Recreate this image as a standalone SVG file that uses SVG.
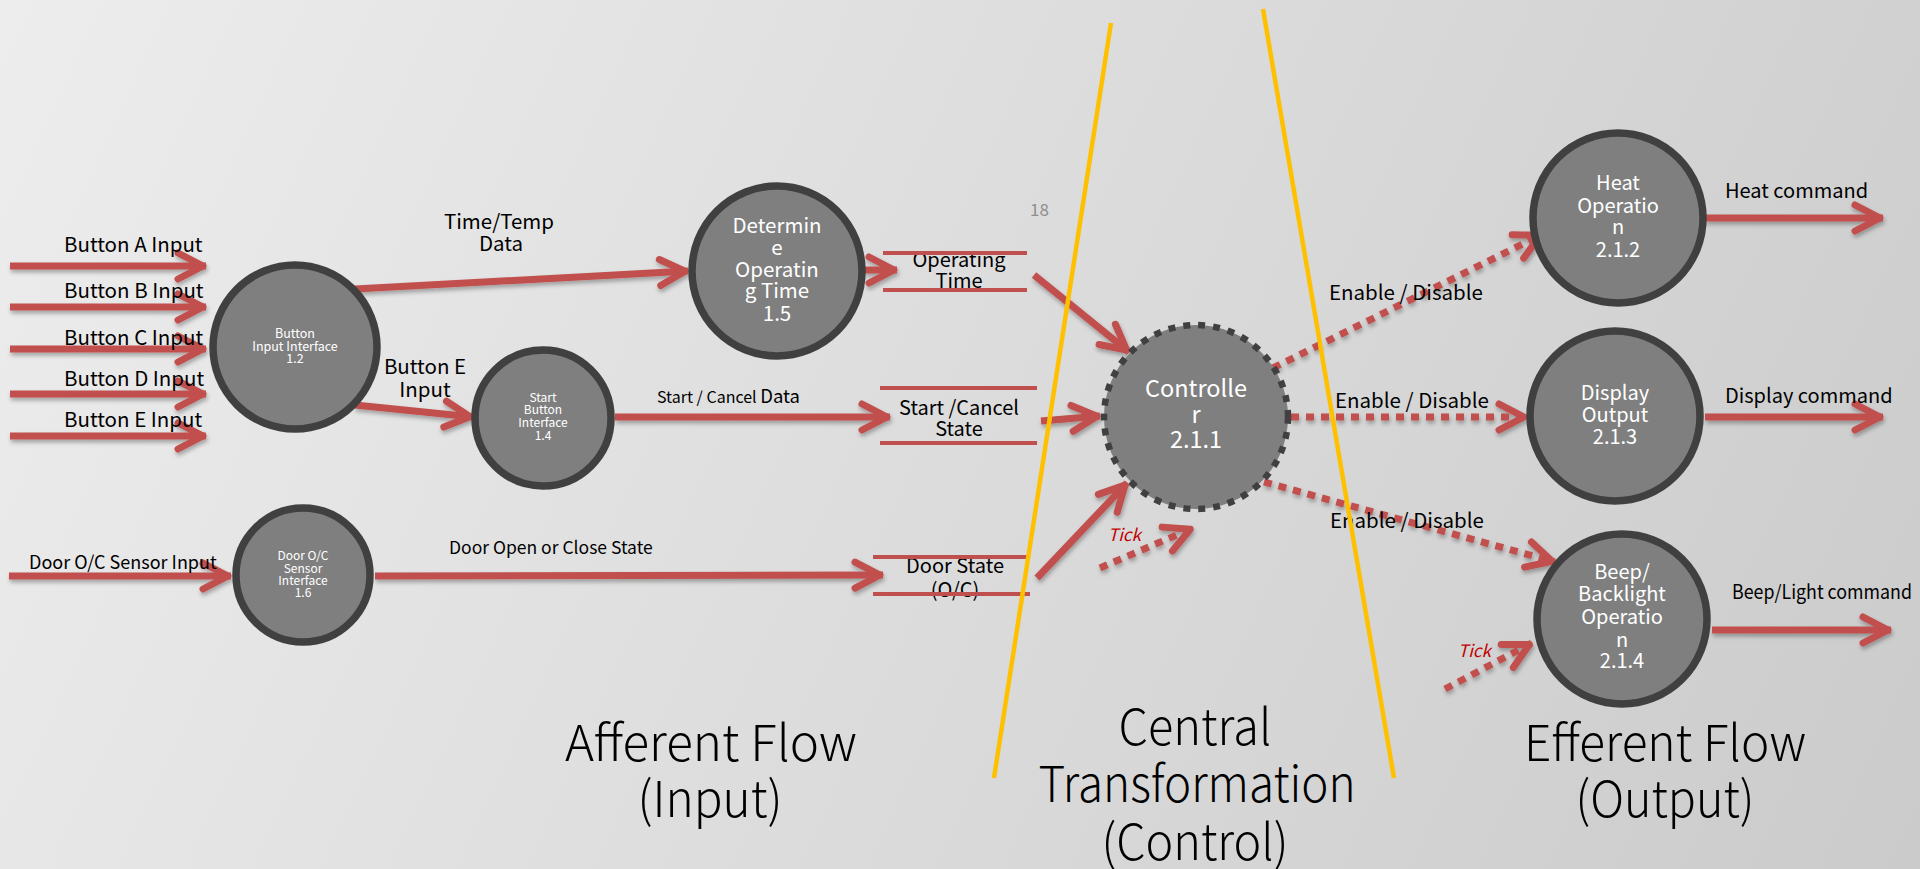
<svg xmlns="http://www.w3.org/2000/svg" width="1920" height="869" viewBox="0 0 1920 869">
  <defs>
    <linearGradient id="bg" x1="0" y1="0" x2="1920" y2="869" gradientUnits="userSpaceOnUse">
      <stop offset="0" stop-color="#ededed"/>
      <stop offset="1" stop-color="#cbcbcb"/>
    </linearGradient>
    <filter id="shadow" x="-10%" y="-50%" width="120%" height="200%">
      <feDropShadow dx="1" dy="3" stdDeviation="2" flood-color="#000" flood-opacity="0.3"/>
    </filter>
    <marker id="head" markerUnits="userSpaceOnUse" viewBox="-36 -20 42 40" refX="0" refY="0" markerWidth="42" markerHeight="40" orient="auto" overflow="visible">
      <path d="M-28,-13 L-3,0 L-28,13" fill="none" stroke="#C0504D" stroke-width="7" stroke-linecap="round" stroke-linejoin="round"/>
    </marker>
    <style>
      .flow { fill: none; stroke: #C0504D; stroke-width: 7; marker-end: url(#head); }
      .dot { fill: none; stroke: #C0504D; stroke-width: 7; stroke-dasharray: 8 7; marker-end: url(#head); }
      .store { stroke: #C0504D; stroke-width: 4; }
      .proc { fill: #7f7f7f; stroke: #404040; stroke-width: 7.5; }
      .ctrl { fill: #7f7f7f; stroke: #404040; stroke-width: 6.5; stroke-dasharray: 7 8; }
      .divider { stroke: #FFC000; stroke-width: 4.5; stroke-linecap: butt; }
      text { font-family: "Noto Sans CJK KR", "Noto Sans", sans-serif; }
      .lbl { fill: #000; font-size: 20.5px; }
      .nt { fill: #fff; text-anchor: middle; font-size: 20px; }
      .ns { fill: #fff; text-anchor: middle; font-size: 12px; }
      .tick { fill: #C00000; font-size: 17px; font-style: italic; }
      .big { fill: #000; font-size: 50px; font-weight: 300; text-anchor: middle; }
      .mid { text-anchor: middle; }
    </style>
  </defs>

  <rect width="1920" height="869" fill="url(#bg)"/>

  <!-- data flows -->
  <g id="connectors" filter="url(#shadow)">
    <path class="flow" d="M10,266 H206"/>
    <path class="flow" d="M10,307 H206"/>
    <path class="flow" d="M10,349 H206"/>
    <path class="flow" d="M10,394 H206"/>
    <path class="flow" d="M10,436 H206"/>
    <path class="flow" d="M9,576 H231"/>
    <path class="flow" d="M355,289 L688,271"/>
    <path class="flow" d="M355,405 L473,417"/>
    <path class="flow" d="M375,576 L883,575"/>
    <path class="flow" d="M615,417 L890,417"/>
    <path class="flow" d="M864,270 L897,270"/>
    <path class="flow" d="M1034,275 L1129,352"/>
    <path class="flow" d="M1041,421 L1100,416"/>
    <path class="flow" d="M1037,578 L1127,483"/>
    <path class="dot" d="M1100,568 L1193,528"/>
    <path class="dot" d="M1273,368 L1543,234"/>
    <path class="dot" d="M1291,417 L1527,417"/>
    <path class="dot" d="M1264,482 L1555,562"/>
    <path class="dot" d="M1445,689 L1532,643"/>
    <path class="flow" d="M1705,218 H1883"/>
    <path class="flow" d="M1705,417 H1883"/>
    <path class="flow" d="M1712,630 H1891"/>
  </g>

  <!-- flow labels -->
  <g id="flow-labels">
    <text class="lbl" x="64" y="252">Button A Input</text>
    <text class="lbl" x="64" y="298">Button B Input</text>
    <text class="lbl" x="64" y="345">Button C Input</text>
    <text class="lbl" x="64" y="386">Button D Input</text>
    <text class="lbl" x="64" y="427">Button E Input</text>
    <text class="lbl mid" x="499" y="229">Time/Temp</text>
    <text class="lbl mid" x="501" y="251">Data</text>
    <text class="lbl mid" x="425" y="374">Button E</text>
    <text class="lbl mid" x="425" y="397">Input</text>
    <text class="lbl" x="657" y="403" style="font-size:16px">Start  /  Cancel <tspan style="font-size:18.5px">Data</tspan></text>
    <text class="lbl" x="29" y="569" style="font-size:18px">Door O/C Sensor Input</text>
    <text class="lbl" x="449" y="554" style="font-size:17.5px">Door Open or Close State</text>
    <text class="lbl" x="1329" y="300">Enable / Disable</text>
    <text class="lbl" x="1335" y="408">Enable / Disable</text>
    <text class="lbl" x="1330" y="528">Enable / Disable</text>
    <text class="lbl" x="1725" y="198" style="font-size:20px">Heat command</text>
    <text class="lbl" x="1725" y="403" style="font-size:20px">Display command</text>
    <text class="lbl" x="1732" y="599" style="font-size:19.5px" textLength="180" lengthAdjust="spacingAndGlyphs">Beep/Light command</text>
    <text class="tick" x="1108" y="541">Tick</text>
    <text class="tick" x="1458" y="657">Tick</text>
    <text x="1030" y="216" style="font-size:17px;fill:#8f8f8f">18</text>
  </g>

  <!-- data stores -->
  <g id="store-operating-time">
    <text class="lbl mid" x="959" y="267" style="font-size:20px">Operating</text>
    <text class="lbl mid" x="959" y="288" style="font-size:20px">Time</text>
    <line class="store" x1="883" y1="253" x2="1027" y2="253"/>
    <line class="store" x1="883" y1="290" x2="1027" y2="290"/>
  </g>
  <g id="store-start-cancel">
    <text class="lbl mid" x="959" y="415" style="font-size:20px">Start /Cancel</text>
    <text class="lbl mid" x="959" y="436" style="font-size:20px">State</text>
    <line class="store" x1="880" y1="388" x2="1037" y2="388"/>
    <line class="store" x1="880" y1="443" x2="1037" y2="443"/>
  </g>
  <g id="store-door-state">
    <text class="lbl mid" x="955" y="573" style="font-size:20px">Door State</text>
    <text class="lbl mid" x="955" y="597" style="font-size:20px">(O/C)</text>
    <line class="store" x1="873" y1="557" x2="1030" y2="557"/>
    <line class="store" x1="873" y1="594" x2="1030" y2="594"/>
  </g>

  <!-- processes -->
  <g id="node-button-input">
    <circle class="proc" cx="295" cy="347" r="82"/>
    <text class="ns" x="295" y="338" style="font-size:12.5px">Button</text>
    <text class="ns" x="295" y="351" style="font-size:12.5px">Input Interface</text>
    <text class="ns" x="295" y="363" style="font-size:12.5px">1.2</text>
  </g>
  <g id="node-start-button">
    <circle class="proc" cx="543" cy="418" r="68"/>
    <text class="ns" x="543" y="402">Start</text>
    <text class="ns" x="543" y="414">Button</text>
    <text class="ns" x="543" y="427">Interface</text>
    <text class="ns" x="543" y="440">1.4</text>
  </g>
  <g id="node-door-sensor">
    <circle class="proc" cx="303" cy="575" r="67"/>
    <text class="ns" x="303" y="560">Door O/C</text>
    <text class="ns" x="303" y="573">Sensor</text>
    <text class="ns" x="303" y="585">Interface</text>
    <text class="ns" x="303" y="597">1.6</text>
  </g>
  <g id="node-operating-time">
    <circle class="proc" cx="777" cy="271" r="85"/>
    <text class="nt" x="777" y="233" style="font-size:20.5px">Determin</text>
    <text class="nt" x="777" y="255" style="font-size:20.5px">e</text>
    <text class="nt" x="777" y="277" style="font-size:20.5px">Operatin</text>
    <text class="nt" x="777" y="298" style="font-size:20.5px">g Time</text>
    <text class="nt" x="777" y="321" style="font-size:20.5px">1.5</text>
  </g>
  <g id="node-controller">
    <circle class="ctrl" cx="1196" cy="417" r="92"/>
    <text class="nt" x="1196" y="397" style="font-size:23.5px">Controlle</text>
    <text class="nt" x="1196" y="423" style="font-size:23.5px">r</text>
    <text class="nt" x="1196" y="448" style="font-size:23.5px">2.1.1</text>
  </g>
  <g id="node-heat">
    <circle class="proc" cx="1618" cy="218" r="85"/>
    <text class="nt" x="1618" y="190">Heat</text>
    <text class="nt" x="1618" y="213">Operatio</text>
    <text class="nt" x="1618" y="234">n</text>
    <text class="nt" x="1618" y="257">2.1.2</text>
  </g>
  <g id="node-display">
    <circle class="proc" cx="1615" cy="416" r="85"/>
    <text class="nt" x="1615" y="400">Display</text>
    <text class="nt" x="1615" y="422">Output</text>
    <text class="nt" x="1615" y="444">2.1.3</text>
  </g>
  <g id="node-beep">
    <circle class="proc" cx="1622" cy="619" r="85"/>
    <text class="nt" x="1622" y="579">Beep/</text>
    <text class="nt" x="1622" y="601">Backlight</text>
    <text class="nt" x="1622" y="624">Operatio</text>
    <text class="nt" x="1622" y="647">n</text>
    <text class="nt" x="1622" y="668">2.1.4</text>
  </g>

  <!-- region boundaries -->
  <g id="boundaries">
    <line class="divider" x1="1111" y1="23" x2="994" y2="778"/>
    <line class="divider" x1="1263" y1="9" x2="1394" y2="778"/>
  </g>

  <!-- region captions -->
  <g id="captions">
    <text class="big" x="711" y="761" textLength="292" lengthAdjust="spacingAndGlyphs">Afferent Flow</text>
    <text class="big" x="710" y="817" textLength="145" lengthAdjust="spacingAndGlyphs">(Input)</text>
    <text class="big" x="1195" y="745" textLength="153" lengthAdjust="spacingAndGlyphs">Central</text>
    <text class="big" x="1197" y="802" textLength="317" lengthAdjust="spacingAndGlyphs">Transformation</text>
    <text class="big" x="1195" y="860" textLength="187" lengthAdjust="spacingAndGlyphs">(Control)</text>
    <text class="big" x="1665" y="761" textLength="282" lengthAdjust="spacingAndGlyphs">Efferent Flow</text>
    <text class="big" x="1665" y="817" textLength="179" lengthAdjust="spacingAndGlyphs">(Output)</text>
  </g>
</svg>
